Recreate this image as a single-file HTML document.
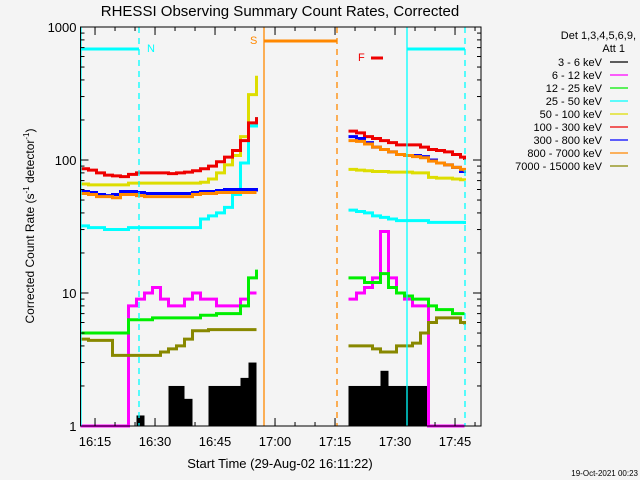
<!DOCTYPE html>
<html><head><meta charset="utf-8"><style>
body{margin:0;background:#f4f4f4}
svg{display:block;font-family:"Liberation Sans",sans-serif}
</style></head><body>
<svg id="c" width="640" height="480" viewBox="0 0 640 480">
<rect width="640" height="480" fill="#f4f4f4"/>
<text x="280" y="16" font-size="15" text-anchor="middle" fill="#000">RHESSI Observing Summary Count Rates, Corrected</text>
<g id="plot"></g>
<g id="axes"></g>
<text transform="translate(34,226) rotate(-90)" font-size="12" text-anchor="middle">Corrected Count Rate (s<tspan font-size="8" dy="-5">-1</tspan><tspan dy="5"> detector</tspan><tspan font-size="8" dy="-5">-1</tspan><tspan dy="5">)</tspan></text>
<text x="280" y="468" font-size="13" text-anchor="middle">Start Time (29-Aug-02 16:11:22)</text>
<text x="638" y="476" font-size="8" text-anchor="end">19-Oct-2021 00:23</text>
<g id="legend"></g>
</svg>
<script>
const labels=["3 - 6 keV","6 - 12 keV","12 - 25 keV","25 - 50 keV","50 - 100 keV","100 - 300 keV","300 - 800 keV","800 - 7000 keV","7000 - 15000 keV"];
const colors=["#000","#ff00ff","#00ee00","#00ffff","#dddd00","#ee0000","#0000ff","#ff8800","#888800"];
const timesA=[0,2,4,6,8,10,12,14,16,18,20,22,24,26,28,30,32,34,36,38,40,42,44];
const timesB=[67,69,71,73,75,77,79,81,83,85,87,89,91,93,95,96];
const blackA=[1,1,1,1,1,1,1,1.2,1,1,1,2,2,1.6,1,1,2,2,2,2,2.3,3,3];
const blackB=[2,2,2,2,2.6,2,2,2,2,2,1,1,1,1,1,1];
const magentaA=[1,1,1,1,1,1,8,9,10,11,9,8,8,9,10,9,9,8,8,8,9,10,10];
const magentaB=[9,10,11,13,29,13,10,9,8,8,1,1,1,1,1,1];
const greenA=[5,5,5,5,5,5,6.3,6.3,6.3,6.5,6.5,6.5,6.5,6.5,6.5,6.8,6.8,7,7,7,8,13,15];
const greenB=[13,13,12,12,14,11,10,9.5,9,9,8,7.5,7.5,7,7,7];
const cyanA=[32,31,31,30,30,30,31,31,31,31,31,31,31,31,31,36,38,40,44,55,95,180,210];
const cyanB=[42,41,40,38,37,36,35,35,35,35,34,34,34,34,34,33];
const yellowA=[66,65,65,65,65,65,67,67,67,67,67,67,67,67,67,68,72,80,92,108,150,310,430];
const yellowB=[85,84,83,82,82,81,81,81,80,80,74,73,73,72,71,70];
const redA=[86,84,80,77,76,75,78,80,80,80,80,79,80,81,83,86,90,97,105,118,140,190,210];
const redB=[165,160,150,145,140,135,130,130,130,125,120,118,115,110,105,100];
const blueA=[58,57,55,54,55,58,58,57,56,56,56,56,56,56,57,58,58,59,60,60,60,60,58];
const blueB=[150,145,135,125,120,115,110,108,108,106,100,95,92,88,82,80];
const orangeA=[56,55,53,53,52,55,55,54,53,53,53,53,53,53,55,56,56,57,57,57,57,57,57];
const orangeB=[140,138,132,125,120,115,110,108,106,104,98,95,92,88,85,82];
const oliveA=[4.5,4.4,4.4,4.4,3.4,3.4,3.4,3.4,3.4,3.4,3.6,3.8,4,4.5,5.2,5.2,5.3,5.3,5.3,5.3,5.3,5.3,5.3];
const oliveB=[4,4,4,3.8,3.6,3.6,4,4,4.2,5,6,6.5,6.5,6.5,6,5.8];
const xTickLabels=["16:15","16:30","16:45","17:00","17:15","17:30","17:45"];
const xTickMins=[3.63,18.63,33.63,48.63,63.63,78.63,93.63];
const yTickVals=[1,10,100,1000];

const X0=80.5,XR=481,Y1=426,YD=133;
function xs(t){return X0+4*t;}
function ys(v){return Y1-Math.log10(Math.max(v,1))*YD;}
const NS="http://www.w3.org/2000/svg";
function mk(tag,attrs,parent){const e=document.createElementNS(NS,tag);for(const k in attrs)e.setAttribute(k,attrs[k]);parent.appendChild(e);return e;}
const plot=document.getElementById('plot'),axes=document.getElementById('axes'),leg=document.getElementById('legend');

// black as filled bars
[[timesA,blackA],[timesB,blackB]].forEach(([T,V],si)=>{
  T.forEach((t,i)=>{ if(i===T.length-1)return; const v=V[i]; if(v<=1)return;
    const r=mk('rect',{x:xs(t),y:ys(v),width:xs(T[i+1])-xs(t),height:Y1-ys(v),fill:'#000'},plot);
    
    
  });
});
function step(T,V,color,name){
  let d='';T.forEach((t,i)=>{const x=xs(t),y=ys(V[i]);if(i===0)d+='M'+x+','+y;else d+='H'+x+'V'+y;});
  const p=mk('path',{d:d,fill:'none',stroke:color,'stroke-width':3},plot);
  
  
}
const seriesA=[magentaA,greenA,cyanA,oliveA,yellowA,redA,blueA,orangeA];
const seriesB=[magentaB,greenB,cyanB,oliveB,yellowB,redB,blueB,orangeB];
const sColors=[colors[1],colors[2],colors[3],colors[8],colors[4],colors[5],colors[6],colors[7]];
const sNames=['series-6-12','series-12-25','series-25-50','series-7000-15000','series-50-100','series-100-300','series-300-800','series-800-7000'];
seriesA.forEach((s,i)=>{step(timesA,s,sColors[i],sNames[i]+'-a');step(timesB,seriesB[i],sColors[i],sNames[i]+'-b');});

// markers
function vline(x,c,dash,name){const l=mk('line',{x1:x,x2:x,y1:27,y2:Y1,stroke:c,'stroke-width':1.3,'stroke-dasharray':dash||'none'},plot);
  
  }
vline(81,'#00ffff',null,'night-start-line');vline(139,'#00ffff','6,5','night-end-line');
vline(407,'#00ffff',null,'night2-start-line');vline(465,'#00ffff','6,5','night2-end-line');
vline(264,'#ff8800',null,'saa-start-line');vline(337,'#ff8800','6,5','saa-end-line');
function hbar(x1,x2,y,c,w,name){const l=mk('line',{x1:x1,x2:x2,y1:y,y2:y,stroke:c,'stroke-width':w},plot);
  
  }
hbar(81,139,49,'#00ffff',3,'night-bar');hbar(407,465,49,'#00ffff',3,'night2-bar');
hbar(264,337,41,'#ff8800',3,'saa-bar');hbar(371,383,58,'#ee0000',3,'flare-bar');
function lbl(x,y,t,c,name){const e=mk('text',{x:x,y:y,fill:c,'font-size':11},plot);e.textContent=t;
  
  }
lbl(147,52,'N','#00ffff','night-label');lbl(250,44,'S','#ff8800','saa-label');lbl(358,61,'F','#ee0000','flare-label');

// axes
mk('rect',{x:X0,y:27,width:XR-X0,height:Y1-27,fill:'none',stroke:'#000','stroke-width':1},axes);
yTickVals.forEach((v,i)=>{
  const y=ys(v);
  mk('line',{x1:X0,x2:X0+8,y1:y,y2:y,stroke:'#000'},axes);mk('line',{x1:XR,x2:XR-8,y1:y,y2:y,stroke:'#000'},axes);
  const t=mk('text',{x:X0-4,y:y+5,'font-size':13,'text-anchor':'end'},axes);t.textContent=String(v);
  
  
  if(i<yTickVals.length-1)for(let k=2;k<10;k++){const yy=ys(v*k);
    mk('line',{x1:X0,x2:X0+4,y1:yy,y2:yy,stroke:'#000'},axes);mk('line',{x1:XR,x2:XR-4,y1:yy,y2:yy,stroke:'#000'},axes);}
});
xTickMins.forEach((m,i)=>{
  const x=xs(m);
  mk('line',{x1:x,x2:x,y1:Y1,y2:Y1-8,stroke:'#000'},axes);mk('line',{x1:x,x2:x,y1:27,y2:35,stroke:'#000'},axes);
  const t=mk('text',{x:x,y:446,'font-size':13,'text-anchor':'middle'},axes);t.textContent=xTickLabels[i];
  
  
});
for(let m=xTickMins[0]-5;m<100;m+=5){if(m<0)continue;const x=xs(m);
  mk('line',{x1:x,x2:x,y1:Y1,y2:Y1-4,stroke:'#000'},axes);mk('line',{x1:x,x2:x,y1:27,y2:31,stroke:'#000'},axes);}

// legend
function lt(x,y,t,name){const e=mk('text',{x:x,y:y,'font-size':11,'text-anchor':'end'},leg);e.textContent=t;
  
  }
lt(636,39,'Det 1,3,4,5,6,9,','legend-detectors');lt(625,52,'Att 1','legend-attenuator');
labels.forEach((s,i)=>{const y=66+i*13;
  const e=mk('text',{x:602,y:y,'font-size':11,'text-anchor':'end'},leg);e.textContent=s;
  
  
  mk('line',{x1:610,x2:628,y1:y-4,y2:y-4,stroke:colors[i],'stroke-width':1.3},leg);
});
</script>
</body></html>
